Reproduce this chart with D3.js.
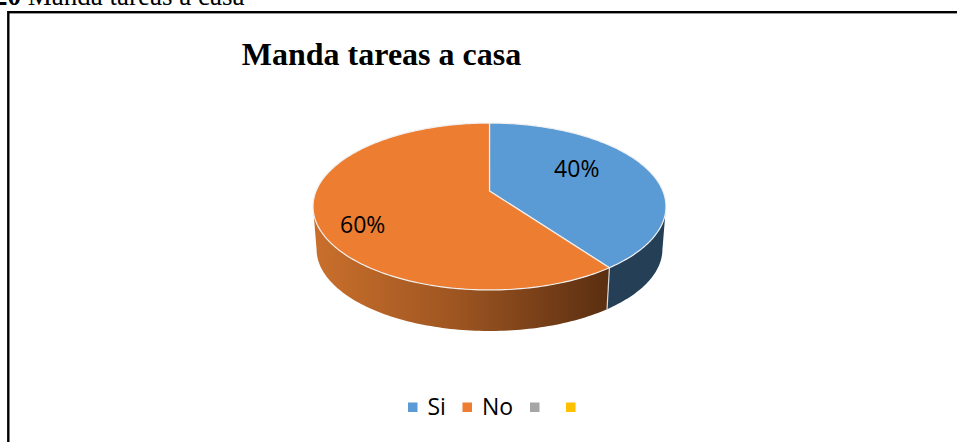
<!DOCTYPE html>
<html>
<head>
<meta charset="utf-8">
<script src="https://cdn.jsdelivr.net/npm/d3@7/dist/d3.min.js"></script>
<style>
	html, body { margin: 0; padding: 0; background: #fff; overflow: hidden; }
	svg { display: block; }
	.body-font { font-family: "Liberation Serif", serif; fill: #000; }
	.chart-font { font-family: "Open Sans", sans-serif; fill: #000; }
</style>
</head>
<body>
<div id="chart"></div>
<script>
const captionNumber = "20";
const captionText = " Manda tareas a casa";
const chartTitle = "Manda tareas a casa";
const categories = ["Si", "No", "", ""];
const percentages = [40, 60, 0, 0];
const topColors = ["#5B9BD5", "#ED7D31", "#A5A5A5", "#FFC000"];

const width = 957, height = 442;

// perspective of the tilted disc, worked out from the rim of the pie
const cx = 489.5, cy = 191;
const rimX = 173.4, rimY = 80.6, tilt = 0.1856;
const wallDrop = 43, wallScale = 0.98;

const project = function(angle, radius, drop, scale) {
	const u = Math.sin(angle) * radius, v = Math.cos(angle) * radius;
	const w = 1 / (1 + tilt * v);
	return [cx + rimX * scale * u * w, cy + drop - rimY * scale * v * w];
};

const arcPoints = function(a0, a1, drop, scale) {
	const n = Math.max(2, Math.ceil(Math.abs(a1 - a0) / 0.02));
	return d3.range(n + 1).map(i => project(a0 + (a1 - a0) * i / n, 1, drop, scale));
};

const svg = d3.select("#chart").append("svg")
	.attr("width", width)
	.attr("height", height);

const defs = svg.append("defs");
const wallGradient = defs.append("linearGradient")
	.attr("id", "orange-wall")
	.attr("gradientUnits", "userSpaceOnUse")
	.attr("x1", 316).attr("x2", 607).attr("y1", 0).attr("y2", 0);
wallGradient.selectAll("stop")
	.data([[0, "#c96f2c"], [0.45, "#a15722"], [1, "#5b2f11"]])
	.join("stop")
	.attr("offset", d => d[0])
	.attr("stop-color", d => d[1]);

// caption of the document, cut by the top of the page
const caption = svg.append("text")
	.attr("class", "body-font")
	.attr("x", -6)
	.attr("y", 5)
	.style("font-size", "27px");
caption.append("tspan").style("font-weight", "bold").text(captionNumber);
caption.append("tspan").text(captionText);

// chart frame, right and bottom sides run off the page
svg.append("rect")
	.attr("x", 8.3).attr("y", 12.2)
	.attr("width", 1000).attr("height", 500)
	.attr("fill", "#fff")
	.attr("stroke", "#000")
	.attr("stroke-width", 2.4);

svg.append("text")
	.attr("class", "body-font")
	.attr("x", 381.5)
	.attr("y", 65)
	.attr("text-anchor", "middle")
	.style("font-size", "32px")
	.style("font-weight", "bold")
	.text(chartTitle);

const slices = d3.pie().sort(null).value(d => d)(percentages);
const visible = slices.filter(d => d.value > 0);

const line = d3.line();
const color = d3.scaleOrdinal().domain(d3.range(categories.length)).range(topColors);

// side walls, only the front part of the rim shows
const frontStart = Math.PI - Math.acos(tilt);
const frontEnd = Math.PI + Math.acos(tilt);
const wallColor = ["#243f56", "url(#orange-wall)"];

svg.append("g").selectAll("path")
	.data(visible)
	.join("path")
	.attr("fill", (d, i) => wallColor[i])
	.attr("d", d => {
		const a0 = Math.max(d.startAngle, frontStart);
		const a1 = Math.min(d.endAngle, frontEnd);
		return line(arcPoints(a0, a1, 0, 1).concat(arcPoints(a1, a0, wallDrop, wallScale))) + "Z";
	});

// seam between the two walls
const seam = visible[0].endAngle;
svg.append("path")
	.attr("d", line([project(seam, 1, 0, 1), project(seam, 1, wallDrop, wallScale)]))
	.attr("fill", "none")
	.attr("stroke", "#d9d9d9")
	.attr("stroke-width", 1.2);

// top face
svg.append("g").selectAll("path")
	.data(visible)
	.join("path")
	.attr("fill", d => color(d.index))
	.attr("stroke", "#f0f0f0")
	.attr("stroke-width", 1.2)
	.attr("stroke-linejoin", "round")
	.attr("d", d => line([project(0, 0, 0, 1)].concat(arcPoints(d.startAngle, d.endAngle, 0, 1))) + "Z");

// data labels sit a little before the middle of each slice
const labelShift = [-0.2, -0.2], labelRadius = [0.61, 0.78];
svg.append("g").selectAll("text")
	.data(visible)
	.join("text")
	.attr("class", "chart-font")
	.attr("text-anchor", "middle")
	.attr("dominant-baseline", "central")
	.style("font-size", "23px")
	.attr("transform", (d, i) => {
		const mid = (d.startAngle + d.endAngle) / 2 + labelShift[i];
		return "translate(" + project(mid, labelRadius[i], 0, 1) + ")";
	})
	.text(d => d.value + "%");

// legend
const legendSwatch = [408, 462.5, 530, 566];
const legend = svg.append("g").selectAll("g")
	.data(categories)
	.join("g")
	.attr("transform", (d, i) => "translate(" + legendSwatch[i] + ",402.5)");
legend.append("rect")
	.attr("width", 9.5).attr("height", 9.5)
	.attr("fill", (d, i) => color(i));
legend.append("text")
	.attr("class", "chart-font")
	.attr("x", 19.5)
	.attr("y", 12.5)
	.style("font-size", "23px")
	.text(d => d);
</script>
</body>
</html>
